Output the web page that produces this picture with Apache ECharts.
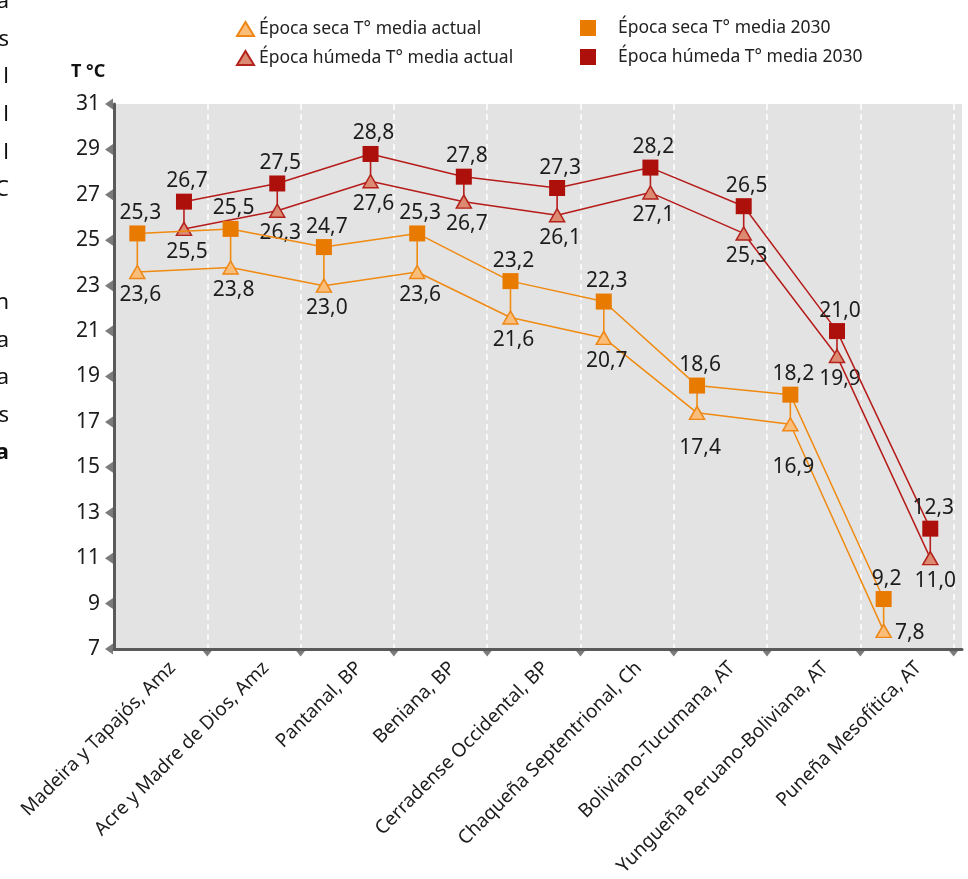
<!DOCTYPE html>
<html>
<head>
<meta charset="utf-8">
<script src="https://cdn.jsdelivr.net/npm/echarts@6/dist/echarts.min.js"></script>
<style>html,body{margin:0;padding:0;background:#fff}#c{width:968px;height:879px}</style>
</head>
<body>
<div id="c"></div>
<script>
// ---- data ----
const categories = [
  'Madeira y Tapajós, Amz',
  'Acre y Madre de Dios, Amz',
  'Pantanal, BP',
  'Beniana, BP',
  'Cerradense Occidental, BP',
  'Chaqueña Septentrional, Ch',
  'Boliviano-Tucumana, AT',
  'Yungueña Peruano-Boliviana, AT',
  'Puneña Mesofítica, AT'
];
const secaActual   = [23.6, 23.8, 23.0, 23.6, 21.6, 20.7, 17.4, 16.9, 7.8];
const seca2030     = [25.3, 25.5, 24.7, 25.3, 23.2, 22.3, 18.6, 18.2, 9.2];
const humedaActual = [25.5, 26.3, 27.6, 26.7, 26.1, 27.1, 25.3, 19.9, 11.0];
const humeda2030   = [26.7, 27.5, 28.8, 27.8, 27.3, 28.2, 26.5, 21.0, 12.3];
const yTicks = [7, 9, 11, 13, 15, 17, 19, 21, 23, 25, 27, 29, 31];
const names = [
  'Época seca T° media actual',
  'Época húmeda T° media actual',
  'Época seca T° media 2030',
  'Época húmeda T° media 2030'
];
const marginFragments = ['a','s','l','l','l','C','','','n','a','a','s','a'];

// ---- layout / style ----
const FONT = '"Noto Sans", "DejaVu Sans", sans-serif';
const DRY = 0.25, WET = 0.75;
const AXIS = '#5a5a5a';
const ORANGE_LINE = '#f08a10', RED_LINE = '#b51c1a';
const fmt = v => v.toFixed(1).replace('.', ',');
const labelBase = { show: true, fontSize: 21, color: '#1c1c1c', fontFamily: FONT,
  formatter: p => fmt(p.value[1]), offset: [3, 0] };
// special label placements (by category index)
const dryActualLabelFix = {
  6: { offset: [3, 12] },
  7: { offset: [3, 20] },
  8: { position: 'right', distance: 3, offset: [0, 2] }
};
const wetActualLabelFix = { 8: { offset: [5, 0] } };

function pts(arr, off, fix) {
  return arr.map((v, i) => {
    const item = { value: [i + off, v] };
    if (fix && fix[i]) item.label = fix[i];
    return item;
  });
}
function connector(low, high, off, color) {
  return {
    type: 'custom', xAxisIndex: 0, yAxisIndex: 0, silent: true, z: 1,
    data: low.map((v, i) => [i + off, v, high[i]]),
    encode: { x: 0, y: [1, 2] },
    renderItem: (params, api) => {
      const a = api.coord([api.value(0), api.value(1)]);
      const b = api.coord([api.value(0), api.value(2)]);
      return { type: 'line', shape: { x1: a[0], y1: a[1], x2: b[0], y2: b[1] },
        style: { stroke: color, lineWidth: 1.6 } };
    }
  };
}

const chart = echarts.init(document.getElementById('c'), null, { renderer: 'canvas' });

const xTickVals = categories.map((c, i) => i + 1);
const legendText = { fontSize: 17.5, color: '#222', fontFamily: FONT };

const option = {
  animation: false,
  textStyle: { fontFamily: FONT },
  title: { text: 'T °C', left: 66, top: 58,
    textStyle: { fontSize: 18, fontWeight: 'bold', color: '#111', fontFamily: FONT } },
  legend: [
    { data: [names[0]], left: 236, top: 20, padding: 0, icon: 'triangle', itemWidth: 17, itemHeight: 14,
      textStyle: legendText },
    { data: [names[1]], left: 236, top: 49, padding: 0, icon: 'triangle', itemWidth: 17, itemHeight: 14,
      textStyle: legendText },
    { data: [names[2]], left: 580, top: 19, padding: 0, icon: 'rect', itemWidth: 16, itemHeight: 16,
      textStyle: Object.assign({}, legendText, { padding: [0, 0, 0, 17] }) },
    { data: [names[3]], left: 580, top: 48, padding: 0, icon: 'rect', itemWidth: 16, itemHeight: 16,
      textStyle: Object.assign({}, legendText, { padding: [0, 0, 0, 17] }) }
  ],
  graphic: marginFragments.map((t, i) => ({
    type: 'text', right: 959, top: -9 + i * 37.6, silent: true,
    style: { text: t, fontSize: 22, fill: '#111', fontFamily: FONT,
      fontWeight: i === marginFragments.length - 1 ? 'bold' : 'normal' }
  })),
  grid: [
    { left: 114, top: 104, width: 848, height: 545, show: true, backgroundColor: '#e3e3e3', borderWidth: 0 },
    { left: 126, top: 104, width: 839, height: 545, show: false }
  ],
  xAxis: [
    { type: 'value', gridIndex: 0, min: 0, max: 9.09, interval: 1,
      axisLine: { show: true, onZero: false, lineStyle: { color: AXIS, width: 3 } },
      axisTick: { show: false }, axisLabel: { show: false },
      splitLine: { show: true, showMinLine: false, showMaxLine: false,
        lineStyle: { color: '#ffffff', width: 1.5, type: [6, 4] } } },
    { type: 'category', gridIndex: 1, data: categories, boundaryGap: true,
      axisLine: { show: false }, axisTick: { show: false }, splitLine: { show: false },
      axisLabel: { rotate: 45, fontSize: 19, color: '#1c1c1c', margin: 16, interval: 0, fontFamily: FONT } }
  ],
  yAxis: [
    { type: 'value', gridIndex: 0, min: 7, max: 31, interval: 2,
      axisLine: { show: true, onZero: false, lineStyle: { color: AXIS, width: 3 } },
      axisTick: { show: false },
      axisLabel: { fontSize: 21, color: '#1c1c1c', margin: 14, fontFamily: FONT },
      splitLine: { show: false } },
    { type: 'value', gridIndex: 1, min: 7, max: 31, show: false }
  ],
  series: [
    connector(secaActual, seca2030, DRY, ORANGE_LINE),
    connector(humedaActual, humeda2030, WET, RED_LINE),
    {
      name: names[0], type: 'line', xAxisIndex: 0, yAxisIndex: 0, z: 3,
      data: pts(secaActual, DRY, dryActualLabelFix),
      symbol: 'triangle', symbolSize: [15, 13],
      itemStyle: { color: '#fbbd7a', borderColor: '#ee8716', borderWidth: 1.5 },
      lineStyle: { color: ORANGE_LINE, width: 1.5 },
      label: Object.assign({}, labelBase, { position: 'bottom', distance: 5 })
    },
    {
      name: names[2], type: 'line', xAxisIndex: 0, yAxisIndex: 0, z: 4,
      data: pts(seca2030, DRY),
      symbol: 'rect', symbolSize: 16,
      itemStyle: { color: '#e87a00', borderWidth: 0 },
      lineStyle: { color: ORANGE_LINE, width: 1.5 },
      label: Object.assign({}, labelBase, { position: 'top', distance: 2 })
    },
    {
      name: names[1], type: 'line', xAxisIndex: 0, yAxisIndex: 0, z: 3,
      data: pts(humedaActual, WET, wetActualLabelFix),
      symbol: 'triangle', symbolSize: [15, 13],
      itemStyle: { color: '#dc8a72', borderColor: '#b3231c', borderWidth: 1.5 },
      lineStyle: { color: RED_LINE, width: 1.5 },
      label: Object.assign({}, labelBase, { position: 'bottom', distance: 5 })
    },
    {
      name: names[3], type: 'line', xAxisIndex: 0, yAxisIndex: 0, z: 4,
      data: pts(humeda2030, WET),
      symbol: 'rect', symbolSize: 16,
      itemStyle: { color: '#ad0f0b', borderWidth: 0 },
      lineStyle: { color: RED_LINE, width: 1.5 },
      label: Object.assign({}, labelBase, { position: 'top', distance: 2 })
    },
    { // y-axis tick marks (triangles pointing left)
      type: 'scatter', xAxisIndex: 0, yAxisIndex: 0, silent: true, clip: false, z: 5,
      data: yTicks.map(v => [0, v]),
      symbol: 'triangle', symbolSize: [11, 8], symbolRotate: 90, symbolOffset: [-5, 0],
      itemStyle: { color: AXIS }
    },
    { // x-axis tick marks (triangles pointing down)
      type: 'scatter', xAxisIndex: 0, yAxisIndex: 0, silent: true, clip: false, z: 5,
      data: xTickVals.map(v => [v, 7]),
      symbol: 'triangle', symbolSize: [11, 7], symbolRotate: 180, symbolOffset: [0, 4],
      itemStyle: { color: AXIS }
    }
  ]
};
chart.setOption(option);
</script>
</body>
</html>
